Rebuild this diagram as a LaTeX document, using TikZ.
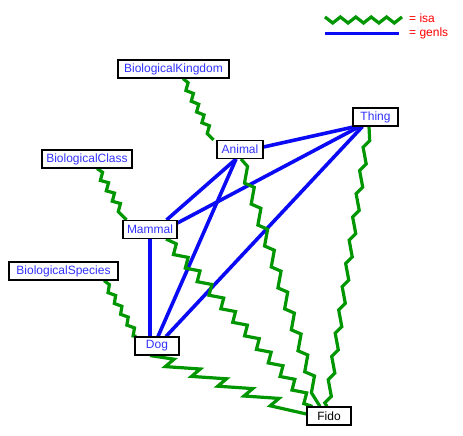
\documentclass[tikz,border=0pt]{standalone}
\usepackage{fontspec}
\setmainfont{Liberation Sans}
\usetikzlibrary{calc,decorations}
\definecolor{isagreen}{RGB}{0,150,0}
\definecolor{genlsblue}{RGB}{10,10,245}
\definecolor{textblue}{RGB}{50,50,255}
\definecolor{legendred}{RGB}{255,0,0}
\newdimen\zzW \newdimen\zzA \newdimen\zzS \newdimen\zzH
\pgfdeclaredecoration{isastairs}{first}{
  \state{first}[width=\zzW, next state=zig, switch if less than=\zzW to final]{
    \pgfpathlineto{\pgfqpoint{\zzH}{\zzA}}
  }
  \state{zig}[width=\zzW, switch if less than=\zzW to final]{
    \pgfpathlineto{\pgfqpoint{-\zzS}{-\zzA}}
    \pgfpathlineto{\pgfqpoint{\zzH}{\zzA}}
  }
  \state{final}{
    \pgfpathlineto{\pgfqpoint{-\zzS}{-\zzA}}
    \pgfpathlineto{\pgfpointdecoratedpathlast}
  }
}
\pgfdeclarelayer{edges}
\pgfsetlayers{edges,main}
\tikzset{
  zz/.code args={#1/#2/#3}{\pgfmathsetlength\zzW{#1}\pgfmathsetlength\zzA{#2}\pgfmathsetlength\zzS{#3}\zzH=0.5\zzW\advance\zzH by\zzS},
  isa/.style={draw=isagreen, line width=3.2pt, line join=miter, decorate, decoration=isastairs},
  genls/.style={draw=genlsblue, line width=3.6pt},
  concept/.style={draw=black, line width=1.1pt, fill=white, text=textblue, minimum height=18pt,
    inner xsep=0pt, inner ysep=0pt, font=\fontsize{12}{14}\selectfont},
  legendtext/.style={anchor=base west, inner sep=0pt, text=legendred, font=\fontsize{12}{14}\selectfont}
}
\begin{document}
\begin{tikzpicture}[x=1pt,y=-1pt]
\useasboundingbox (0,0) rectangle (463,436);
% nodes
\node[concept, minimum width=111pt] (kingdom) at (173.5,69) {BiologicalKingdom};
\node[concept, minimum width=90pt] (class) at (87,159) {BiologicalClass};
\node[concept, minimum width=46pt] (animal) at (240,149.5) {Animal};
\node[concept, minimum width=45pt] (thing) at (375.5,117) {Thing};
\node[concept, minimum width=54pt] (mammal) at (150,229.5) {Mammal};
\node[concept, minimum width=109pt] (species) at (63.5,271) {BiologicalSpecies};
\node[concept, minimum width=44pt] (dog) at (157,346) {Dog};
\node[concept, minimum width=44pt, text=black] (fido) at (329,416) {Fido};
% legend
\coordinate (isaL) at (325,20);
\coordinate (genlsL) at (325,33.5);
\coordinate (genlsR) at (399,33.5);
\node[legendtext] (isatext) at (409,22.5) {= isa};
\node[legendtext] (genlstext) at (409,37) {= genls};
\begin{pgfonlayer}{edges}
\fill[white] (0,0) rectangle (463,436);
\draw[isagreen, line width=3.2pt] (325,17) -- (332.7,23) -- (340.4,17) -- (348.1,23) -- (355.8,17) -- (363.5,23)
  -- (371.2,17) -- (378.9,23) -- (386.6,17) -- (394.3,23) -- (402,17);
\draw[genls] (genlsL) -- (genlsR);
% genls edges
\draw[genls] ($(animal.east)+(0,-2.5)$) -- ($(thing.south west)+(3,0)$);
\draw[genls] ($(animal.south)+(-4,0)$) -- ($(mammal.north east)+(-11,0)$);
\draw[genls] ($(animal.south)+(-4,0)$) -- ($(dog.north)+(1,0)$);
\draw[genls] ($(mammal.north east)+(0,3)$) -- ($(thing.south west)+(7,0)$);
\draw[genls] (mammal.south) -- ($(dog.north)+(-7,0)$);
\draw[genls] ($(dog.north)+(9,0)$) -- ($(thing.south west)+(10,0)$);
% isa edges
\draw[isa, zz=12/2.7/0] ($(kingdom.south)+(9.5,0)$) -- ($(animal.north west)+(-3,0)$);
\draw[isa, zz=12/3/0] ($(class.south)+(10,0)$) -- ($(mammal.north west)+(4,0)$);
\draw[isa, zz=12.5/2.6/0] ($(species.south)+(40.5,0)$) -- ($(dog.north west)+(2,0)$);
\draw[isa, zz=22/4/-2] ($(animal.south)+(1,0)$) -- ($(fido.north)+(-9,0)$);
\draw[isa, zz=18/4.6/1.4] ($(mammal.south)+(16,0)$) -- ($(fido.north west)+(6,0)$);
\draw[isa, zz=28/5/9.8] ($(dog.south)+(-7,0)$) -- ($(fido.west)+(0,-2)$);
\draw[isa, zz=23.5/2.8/2.2] ($(thing.south)+(-6.5,0)$) -- ($(fido.north)+(-2,0)$);
\end{pgfonlayer}
\end{tikzpicture}
\end{document}
